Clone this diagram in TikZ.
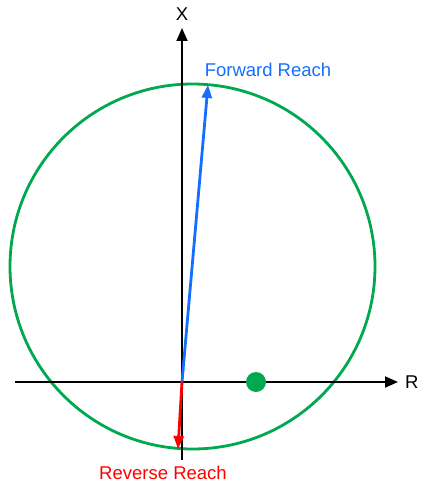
\documentclass[tikz,border=0pt]{standalone}
\usepackage{fontspec}
\setmainfont{Liberation Sans}
\usetikzlibrary{arrows.meta}
\definecolor{cgreen}{RGB}{0,168,80}
\definecolor{cblue}{RGB}{20,110,255}
\definecolor{cred}{RGB}{255,0,0}
\begin{document}
\begin{tikzpicture}[x=1pt,y=-1pt,
  axis/.style={line width=1.8pt,-{Triangle[length=13pt,width=11pt]}},
  reach/.style={line width=2.8pt,-{Triangle[length=13pt,width=10pt]}},
  lbl/.style={font=\fontsize{18.5}{22}\selectfont,inner sep=0pt}]
\useasboundingbox (0,0) rectangle (422,487);
\coordinate (O) at (182,382);
\coordinate (xl) at (15,382);
\coordinate (xr) at (398,382);
\coordinate (yb) at (182,460);
\coordinate (yt) at (182,28);
\draw[cgreen,line width=2.8pt] (192.5,266.5) circle[radius=182.5];
\draw[axis] (xl) -- (xr);
\draw[axis] (yb) -- (yt);
\node[lbl] (X) at (182,14) {X};
\node[lbl,anchor=west] (R) at (405,382) {R};
\fill[cgreen] (256,382) circle[radius=10];
\coordinate (ft) at (208,85);
\coordinate (rt) at (178,449);
\draw[reach,cblue] (O) -- (ft);
\draw[reach,cred] (O) -- (rt);
\node[lbl,cblue] (F) at (268,70) {Forward Reach};
\node[lbl,cred] (Rv) at (163,473) {Reverse Reach};
\end{tikzpicture}
\end{document}
